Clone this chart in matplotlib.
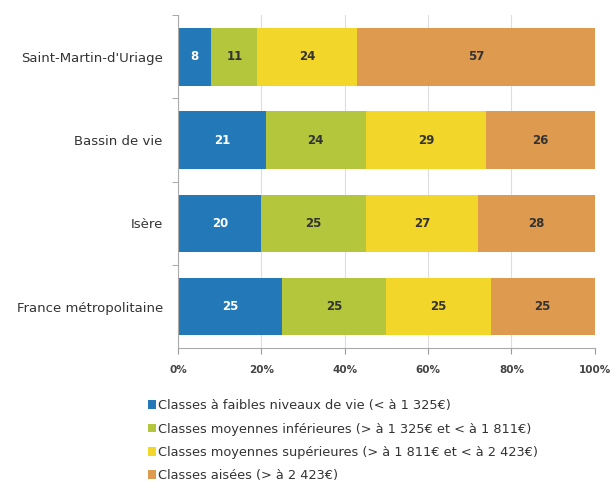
import matplotlib.pyplot as plt
import numpy as np

# donnees (en %)
zones = ['Saint-Martin-d\'Uriage', 'Bassin de vie', 'Isère', 'France métropolitaine']
faibles = [8, 21, 20, 25]
moy_inf = [11, 24, 25, 25]
moy_sup = [24, 29, 27, 25]
aisees = [57, 26, 28, 25]

classes = ['Classes à faibles niveaux de vie (< à 1 325€)',
           'Classes moyennes inférieures (> à 1 325€ et < à 1 811€)',
           'Classes moyennes supérieures (> à 1 811€ et < à 2 423€)',
           'Classes aisées (> à 2 423€)']
couleurs = ['#2379b8', '#b3c63c', '#f2d62a', '#de9a4e']
couleurs_txt = ['white', '#333333', '#333333', '#333333']

plt.rcParams['font.family'] = ['DejaVu Sans']

fig = plt.figure(figsize=(6.1, 4.91), dpi=100)
ax = fig.add_axes([0.292, 0.291, 0.683, 0.678])

y = np.arange(len(zones))[::-1]
series = [faibles, moy_inf, moy_sup, aisees]
left = np.zeros(len(zones))
barres = []
for vals, c, tc, lab in zip(series, couleurs, couleurs_txt, classes):
    vals = np.array(vals)
    b = ax.barh(y, vals, left=left, height=0.69, color=c, label=lab, zorder=2)
    barres.append(b)
    for yi, l, v in zip(y, left, vals):
        ax.text(l + v / 2, yi, str(v), ha='center', va='center',
                color=tc, fontsize=8.5, fontweight='bold', zorder=3)
    left += vals

ax.set_xlim(0, 100)
ax.set_ylim(-0.5, 3.42)
ax.set_xticks(np.arange(0, 101, 20))
ax.set_xticklabels(['%d%%' % v for v in range(0, 101, 20)], fontsize=7.5,
                   fontweight='bold', color='#444444')
ax.set_yticks(y)
ax.set_yticklabels(zones, fontsize=9.5, color='#333333')
ax.tick_params(axis='y', length=0, pad=11)
ax.set_yticks([0.5, 1.5, 2.5, 3.5], minor=True)
ax.tick_params(axis='y', which='minor', length=4, color='#999999', direction='out')
ax.tick_params(axis='x', length=4, color='#999999', pad=8)
ax.grid(axis='x', color='#dddddd', linewidth=0.8, zorder=0)

for s in ['top', 'right']:
    ax.spines[s].set_visible(False)
ax.spines['left'].set_color('#aaaaaa')
ax.spines['bottom'].set_color('#aaaaaa')

fig.legend(handles=barres, labels=classes, loc='upper left',
           bbox_to_anchor=(0.225, 0.208), frameon=False, fontsize=9.3,
           handlelength=0.65, handleheight=0.65, handletextpad=0.15,
           labelspacing=0.8, labelcolor='#333333', borderpad=0.3)

plt.savefig('out.png', dpi=100)
